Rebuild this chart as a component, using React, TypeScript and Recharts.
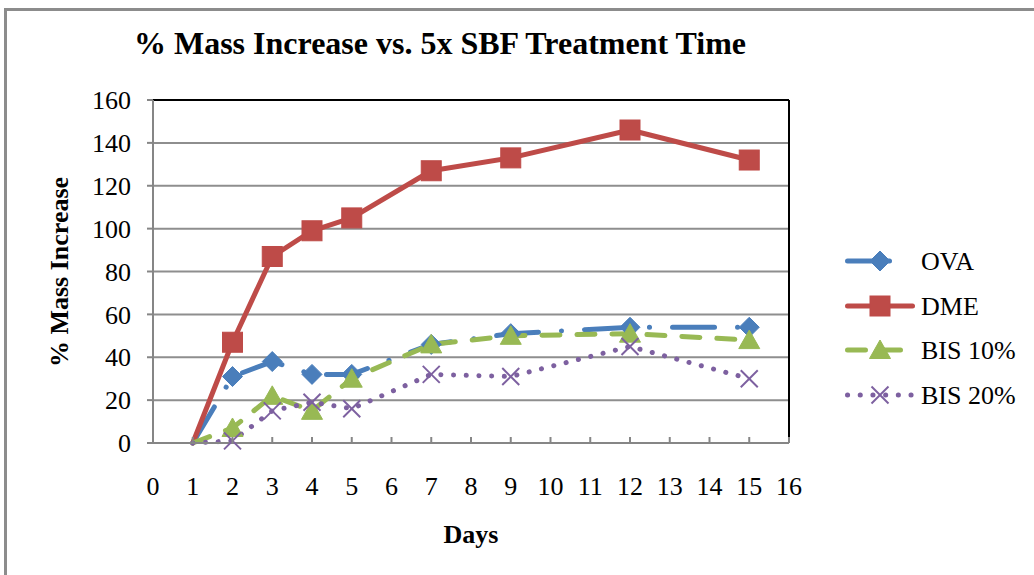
import React from "react";
import {
  CartesianGrid,
  Line,
  LineChart,
  ReferenceLine,
  XAxis,
  YAxis,
} from "recharts";

// Days of 5x SBF treatment and % mass increase per sample
const days = [1, 2, 3, 4, 5, 7, 9, 12, 15];
const ova = [0, 31, 38, 32, 32, 46, 51, 54, 54];
const dme = [0, 47, 87, 99, 105, 127, 133, 146, 132];
const bis10 = [0, 7, 22, 15, 30, 46, 50, 51, 48];
const bis20 = [0, 1, 15, 19, 16, 32, 31, 45, 30];

const xTicks = [0, 1, 2, 3, 4, 5, 6, 7, 8, 9, 10, 11, 12, 13, 14, 15, 16];
const yTicks = [0, 20, 40, 60, 80, 100, 120, 140, 160];

const FONT = "Liberation Serif, Times New Roman, serif";
const AXIS = "#868686";

type MarkerKind = "diamond" | "square" | "triangle" | "cross";

interface SeriesDef {
  key: string;
  label: string;
  color: string;
  dash?: string;
  marker: MarkerKind;
}

const series: SeriesDef[] = [
  { key: "ova", label: "OVA", color: "#4A7EBB", dash: "42 23 0.1 23", marker: "diamond" },
  { key: "dme", label: "DME", color: "#BE4B48", marker: "square" },
  { key: "bis10", label: "BIS 10%", color: "#98B954", dash: "18 17", marker: "triangle" },
  { key: "bis20", label: "BIS 20%", color: "#7D60A0", dash: "0.1 12.6", marker: "cross" },
];

const data = days.map((day, i) => ({
  day,
  ova: ova[i],
  dme: dme[i],
  bis10: bis10[i],
  bis20: bis20[i],
}));

function Marker({ kind, cx, cy, color }: { kind: MarkerKind; cx: number; cy: number; color: string }) {
  if (kind === "diamond") {
    const r = 10;
    return (
      <polygon
        points={`${cx},${cy - r} ${cx + r},${cy} ${cx},${cy + r} ${cx - r},${cy}`}
        fill={color}
        stroke={color}
        strokeWidth={1}
      />
    );
  }
  if (kind === "square") {
    return <rect x={cx - 10} y={cy - 10} width={20} height={20} fill={color} stroke={color} strokeWidth={1} />;
  }
  if (kind === "triangle") {
    return (
      <polygon
        points={`${cx},${cy - 10} ${cx + 10.5},${cy + 8.5} ${cx - 10.5},${cy + 8.5}`}
        fill={color}
        stroke={color}
        strokeWidth={1}
      />
    );
  }
  const r = 8.5;
  return (
    <g stroke={color} strokeWidth={2}>
      <line x1={cx - r} y1={cy - r} x2={cx + r} y2={cy + r} />
      <line x1={cx - r} y1={cy + r} x2={cx + r} y2={cy - r} />
    </g>
  );
}

const XTick = (props: any) => {
  const { x, y, payload } = props;
  return (
    <g>
      <line x1={x} y1={y} x2={x} y2={y - 6} stroke={AXIS} strokeWidth={2} />
      <text x={x} y={y + 52} textAnchor="middle" fontSize={26} fontFamily={FONT} fill="#000">
        {payload.value}
      </text>
    </g>
  );
};

function LegendBox() {
  const rows = [261, 306, 350, 395];
  return (
    <svg width={1034} height={575} style={{ position: "absolute", left: 0, top: 0, pointerEvents: "none" }}>
      {series.map((s, i) => {
        const y = rows[i];
        return (
          <g key={s.key}>
            <line
              x1={847.5}
              y1={y}
              x2={912.5}
              y2={y}
              stroke={s.color}
              strokeWidth={5}
              strokeDasharray={s.dash}
              strokeLinecap="round"
            />
            <Marker kind={s.marker} cx={880} cy={y} color={s.color} />
            <text x={921} y={y + 9} fontSize={26} fontFamily={FONT} fill="#000">
              {s.label}
            </text>
          </g>
        );
      })}
    </svg>
  );
}

export default function App() {
  return (
    <div
      style={{
        position: "absolute",
        left: 0,
        top: 0,
        width: 1034,
        height: 575,
        overflow: "hidden",
        background: "#fff",
        fontFamily: FONT,
      }}
    >
      {/* chart area frame */}
      <div
        style={{
          position: "absolute",
          left: 4,
          top: 8,
          width: 1200,
          height: 800,
          borderLeft: "3px solid #8c8c8c",
          borderTop: "3px solid #8c8c8c",
        }}
      />
      <div
        style={{
          position: "absolute",
          left: 440,
          top: 43,
          transform: "translate(-50%, -50%)",
          fontSize: 32,
          fontWeight: "bold",
          whiteSpace: "nowrap",
        }}
      >
        % Mass Increase vs. 5x SBF Treatment Time
      </div>
      <div
        style={{
          position: "absolute",
          left: 60,
          top: 272,
          transform: "translate(-50%, -50%) rotate(-90deg)",
          fontSize: 26,
          fontWeight: "bold",
          whiteSpace: "nowrap",
        }}
      >
        % Mass Increase
      </div>
      <div
        style={{
          position: "absolute",
          left: 471,
          top: 535,
          transform: "translate(-50%, -50%)",
          fontSize: 26,
          fontWeight: "bold",
        }}
      >
        Days
      </div>
      <div style={{ position: "absolute", left: 0, top: 0 }}>
        <LineChart width={1034} height={575} data={data} margin={{ top: 100, right: 245, bottom: 102, left: 0 }}>
          <CartesianGrid vertical={false} stroke="#8e8e8e" strokeWidth={2} />
          <XAxis
            type="number"
            dataKey="day"
            domain={[0, 16]}
            ticks={xTicks}
            interval={0}
            height={30}
            tickSize={0}
            tickMargin={0}
            tickLine={false}
            tick={<XTick />}
            axisLine={{ stroke: AXIS, strokeWidth: 2 }}
          />
          <YAxis
            type="number"
            domain={[0, 160]}
            ticks={yTicks}
            interval={0}
            width={153}
            tickSize={6}
            tickMargin={16}
            tickLine={{ stroke: AXIS, strokeWidth: 2 }}
            axisLine={{ stroke: AXIS, strokeWidth: 2 }}
            tick={{ fill: "#000", fontSize: 26, fontFamily: FONT }}
          />
          <ReferenceLine y={160} stroke="#000" strokeWidth={2} />
          <ReferenceLine x={16} stroke="#000" strokeWidth={2} />
          {series.map((s) => (
            <Line
              key={s.key}
              type="linear"
              dataKey={s.key}
              stroke={s.color}
              strokeWidth={5}
              strokeDasharray={s.dash}
              strokeLinecap="round"
              strokeLinejoin="round"
              isAnimationActive={false}
              // the day-1 baseline point is drawn without a marker
              dot={(p: any) =>
                p.index === 0 ? (
                  <g key={`${s.key}-${p.index}`} />
                ) : (
                  <Marker key={`${s.key}-${p.index}`} kind={s.marker} cx={p.cx} cy={p.cy} color={s.color} />
                )
              }
              activeDot={false}
            />
          ))}
        </LineChart>
      </div>
      <LegendBox />
    </div>
  );
}
